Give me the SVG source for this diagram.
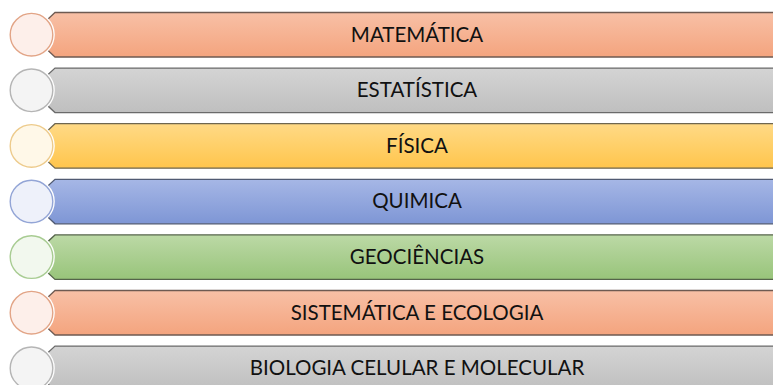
<svg xmlns="http://www.w3.org/2000/svg" width="773" height="385" viewBox="0 0 773 385">
<style>
.bar{stroke-width:1.3}
.ring{fill:none;stroke:#fff;stroke-width:4}
.dot{stroke-width:1.4}
.lbl{font-family:Lato,"Liberation Sans",Arial,sans-serif;font-size:20.5px;fill:#111;text-anchor:middle}
</style>
<defs>
<linearGradient id="gO" x1="0" y1="0" x2="0" y2="1"><stop offset="0" stop-color="#F8C0A6"/><stop offset="1" stop-color="#F4A47E"/></linearGradient>
<linearGradient id="gG" x1="0" y1="0" x2="0" y2="1"><stop offset="0" stop-color="#D4D4D4"/><stop offset="1" stop-color="#BFBFBF"/></linearGradient>
<linearGradient id="gY" x1="0" y1="0" x2="0" y2="1"><stop offset="0" stop-color="#FFDA86"/><stop offset="1" stop-color="#FFC54C"/></linearGradient>
<linearGradient id="gB" x1="0" y1="0" x2="0" y2="1"><stop offset="0" stop-color="#A6B7E6"/><stop offset="1" stop-color="#7E96D5"/></linearGradient>
<linearGradient id="gV" x1="0" y1="0" x2="0" y2="1"><stop offset="0" stop-color="#BCD9A6"/><stop offset="1" stop-color="#98C47A"/></linearGradient>
<path id="shape" d="M55,12.5 H790 V57 H55 L47.5,50 V19.5 Z"/>
</defs>
<g id="row1">
<use href="#shape" class="bar" fill="url(#gO)" stroke="#6E5A52"/>
<circle cx="31.5" cy="34.7" r="21.3" class="ring"/>
<circle cx="31.5" cy="34.7" r="21.3" class="dot" fill="#FDEFEA" stroke="#E2A486"/>
<text x="417" y="41.7" class="lbl">MATEMÁTICA</text>
</g>
<g id="row2" transform="translate(0,55.6)">
<use href="#shape" class="bar" fill="url(#gG)" stroke="#6A6A6A"/>
<circle cx="31.5" cy="34.7" r="21.3" class="ring"/>
<circle cx="31.5" cy="34.7" r="21.3" class="dot" fill="#F4F4F4" stroke="#B5B5B5"/>
<text x="417" y="41.7" class="lbl">ESTATÍSTICA</text>
</g>
<g id="row3" transform="translate(0,111.2)">
<use href="#shape" class="bar" fill="url(#gY)" stroke="#6E6650"/>
<circle cx="31.5" cy="34.7" r="21.3" class="ring"/>
<circle cx="31.5" cy="34.7" r="21.3" class="dot" fill="#FFF8E8" stroke="#EDCB8C"/>
<text x="417" y="41.7" class="lbl">FÍSICA</text>
</g>
<g id="row4" transform="translate(0,166.8)">
<use href="#shape" class="bar" fill="url(#gB)" stroke="#505A72"/>
<circle cx="31.5" cy="34.7" r="21.3" class="ring"/>
<circle cx="31.5" cy="34.7" r="21.3" class="dot" fill="#EEF1FA" stroke="#93A5D6"/>
<text x="417" y="41.7" class="lbl">QUIMICA</text>
</g>
<g id="row5" transform="translate(0,222.4)">
<use href="#shape" class="bar" fill="url(#gV)" stroke="#55644A"/>
<circle cx="31.5" cy="34.7" r="21.3" class="ring"/>
<circle cx="31.5" cy="34.7" r="21.3" class="dot" fill="#F2F8EE" stroke="#A8CC92"/>
<text x="417" y="41.7" class="lbl">GEOCIÊNCIAS</text>
</g>
<g id="row6" transform="translate(0,278)">
<use href="#shape" class="bar" fill="url(#gO)" stroke="#6E5A52"/>
<circle cx="31.5" cy="34.7" r="21.3" class="ring"/>
<circle cx="31.5" cy="34.7" r="21.3" class="dot" fill="#FDEFEA" stroke="#E2A486"/>
<text x="417" y="41.7" class="lbl">SISTEMÁTICA E ECOLOGIA</text>
</g>
<g id="row7" transform="translate(0,333.6)">
<use href="#shape" class="bar" fill="url(#gG)" stroke="#6A6A6A"/>
<circle cx="31.5" cy="34.7" r="21.3" class="ring"/>
<circle cx="31.5" cy="34.7" r="21.3" class="dot" fill="#F4F4F4" stroke="#B5B5B5"/>
<text x="417" y="41.7" class="lbl">BIOLOGIA CELULAR E MOLECULAR</text>
</g>
<g id="connectors"/>
</svg>
